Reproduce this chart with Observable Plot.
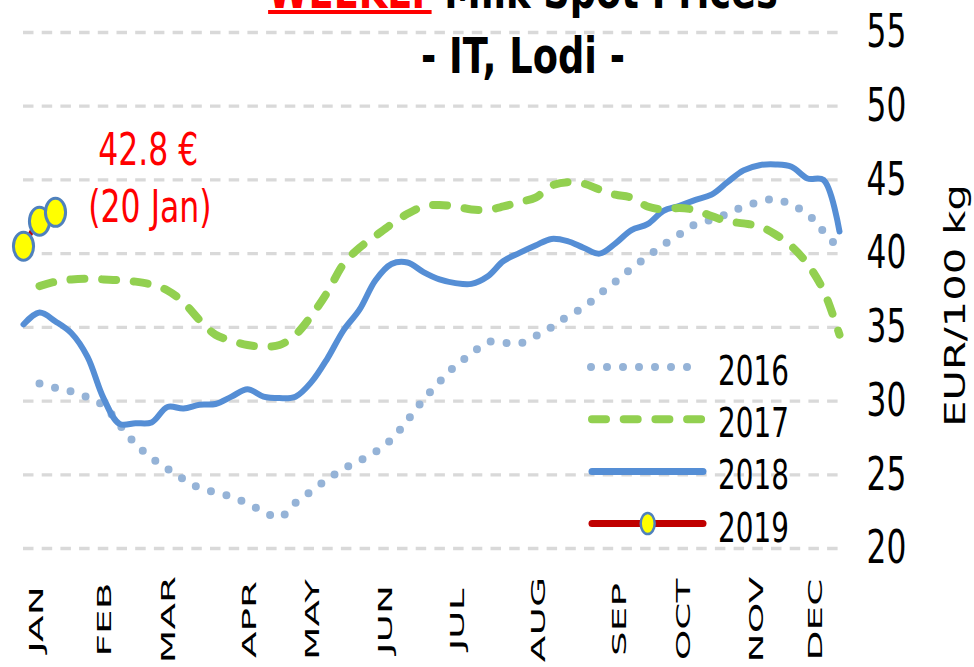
<!DOCTYPE html>
<html><head><meta charset="utf-8">
<script src="https://cdn.jsdelivr.net/npm/d3@7"></script>
<script src="https://cdn.jsdelivr.net/npm/@observablehq/plot@0.6"></script>
<style>
html,body{margin:0;padding:0;background:#fff;}
#wrap{position:relative;width:974px;height:667px;overflow:hidden;background:#fff;}
#wrap > svg{position:absolute;left:0;top:0;}
</style></head><body><div id="wrap"></div>
<script>
// ---------- data ----------
const years = ["2016", "2017", "2018", "2019"];
const v2016 = [null, 31.2, 30.9, 30.65, 30.25, 29.7, 28.4, 27.1, 26.15, 25.4, 24.7, 24.1, 23.8, 23.5, 23.05, 22.5, 22.1, 23.1, 23.9, 24.7, 25.4, 25.95, 26.55, 27.4, 28.7, 30.1, 31.3, 32.4, 33.2, 34.0, 33.95, 33.9, 34.4, 35.0, 35.75, 36.35, 37.25, 38.1, 39.0, 39.8, 40.6, 41.3, 42.0, 42.3, 42.7, 43.2, 43.5, 43.7, 43.3, 42.7, 41.5, 40.3];
const v2017 = [null, 37.8, 38.1, 38.25, 38.3, 38.25, 38.2, 38.1, 37.9, 37.5, 36.7, 35.5, 34.5, 34.1, 33.8, 33.7, 33.8, 34.5, 35.8, 37.4, 39.3, 40.4, 41.2, 42.0, 42.7, 43.2, 43.3, 43.2, 43.0, 42.97, 43.2, 43.5, 43.8, 44.6, 44.85, 44.75, 44.35, 44.0, 43.8, 43.2, 43.0, 43.1, 42.95, 42.55, 42.2, 42.05, 41.85, 41.3, 40.5, 39.3, 37.5, 34.5];
const v2018 = [35.2, 36.0, 35.4, 34.6, 33.0, 30.2, 28.45, 28.5, 28.55, 29.6, 29.5, 29.75, 29.8, 30.3, 30.8, 30.3, 30.2, 30.3, 31.3, 32.9, 34.8, 36.2, 38.2, 39.3, 39.4, 38.75, 38.25, 38.0, 37.95, 38.45, 39.5, 40.05, 40.55, 41.0, 40.85, 40.4, 40.0, 40.7, 41.6, 42.0, 42.9, 43.25, 43.65, 44.0, 44.85, 45.65, 46.0, 46.05, 45.9, 45.1, 45.0, 41.5];
const v2019 = [40.5, 42.2, 42.8];
const monthLabels = ["JAN", "FEB", "MAR", "APR", "MAY", "JUN", "JUL", "AUG", "SEP", "OCT", "NOV", "DEC"];
const monthWeeks = [2.2, 6.45, 10.45, 15.5, 19.45, 24.05, 28.55, 33.6, 38.65, 42.65, 47.2, 50.9];
const yTicks = [20, 25, 30, 35, 40, 45, 50, 55];
const yLabel = "EUR/100 kg";
const titleRed = "WEEKLY";
const titleRest = " Milk Spot Prices";
const subtitle = "- IT, Lodi -";
const noteLines = ["42.8 €", "(20 Jan)"];
const noteWeeks = [8.8, 8.9];
const noteValues = [47.0, 43.1];

// ---------- tidy table ----------
const rows = [];
[v2016, v2017, v2018, v2019].forEach((arr, k) =>
  arr.forEach((v, i) => { if (v != null) rows.push({year: years[k], week: i + 1, value: v}); })
);
const byYear = (y) => rows.filter((r) => r.year === y);

const style = {
  "2016": {stroke: "#95b3d7", strokeWidth: 8, strokeDasharray: "0 16", strokeLinecap: "round"},
  "2017": {stroke: "#92d050", strokeWidth: 8, strokeDasharray: "14 17.7", strokeLinecap: "round"},
  "2018": {stroke: "#558ed5", strokeWidth: 6, strokeLinecap: "round"},
  "2019": {stroke: "#c00000", strokeWidth: 5, strokeLinecap: "round"}
};

// ellipse symbol (markers look taller than wide)
const ellipse = {
  draw(ctx, size) {
    const r = Math.sqrt(size / Math.PI), rx = r * 0.72, ry = r, k = 0.5523;
    ctx.moveTo(rx, 0);
    ctx.bezierCurveTo(rx, ry * k, rx * k, ry, 0, ry);
    ctx.bezierCurveTo(-rx * k, ry, -rx, ry * k, -rx, 0);
    ctx.bezierCurveTo(-rx, -ry * k, -rx * k, -ry, 0, -ry);
    ctx.bezierCurveTo(rx * k, -ry, rx, -ry * k, rx, 0);
    ctx.closePath();
  }
};

const lineOpts = (y) => ({x: "week", y: "value", curve: "catmull-rom", ...style[y]});

const chart = Plot.plot({
  width: 974, height: 667,
  marginLeft: 23, marginRight: 135, marginTop: 32, marginBottom: 119,
  style: {fontFamily: "DejaVu Sans", background: "transparent", overflow: "visible"},
  x: {domain: [1, 52], axis: null},
  y: {domain: [20, 55], axis: null},
  marks: [
    Plot.ruleY(yTicks, {stroke: "#d9d9d9", strokeWidth: 3.3, strokeDasharray: "10.5 8.2"}),
    Plot.line(byYear("2016"), lineOpts("2016")),
    Plot.line(byYear("2018"), lineOpts("2018")),
    Plot.line(byYear("2017"), lineOpts("2017")),
    Plot.line(byYear("2019"), lineOpts("2019")),
    Plot.dot(byYear("2019"), {x: "week", y: "value", r: 14, symbol: ellipse, fill: "#ffff00", stroke: "#4f81bd", strokeWidth: 3}),
    Plot.text(yTicks, {y: (d) => d, text: (d) => String(d), frameAnchor: "right", textAnchor: "start", dx: 27, fontSize: 46, fill: "#000"}),
    Plot.text([yLabel], {text: (d) => d, frameAnchor: "right", textAnchor: "middle", dx: 117, dy: 15, rotate: -90, fontSize: 40, fill: "#000"}),
    Plot.text(monthLabels, {x: (d, i) => monthWeeks[i], text: (d) => d, frameAnchor: "bottom", textAnchor: "middle", dy: 71, rotate: -90, fontSize: 30, fill: "#000"}),
    Plot.text(noteLines, {x: (d, i) => noteWeeks[i], y: (d, i) => noteValues[i], text: (d) => d, fill: "#ff0000", fontSize: 45})
  ]
});

document.getElementById("wrap").appendChild(chart);
function squash(list, sx, sy) {
  const set = new Set(list.map(String));
  chart.querySelectorAll("text").forEach((t) => {
    if (!set.has(t.textContent)) return;
    const tr = t.getAttribute("transform") || "";
    t.setAttribute("transform", tr + ` scale(${sx},${sy})`);
  });
}
squash(yTicks, 0.68, 1);
squash([yLabel], 1.04, 0.7);
squash(monthLabels, 1.3, 0.66);
squash(noteLines, 0.7, 1);

// ---------- overlay: title + legend ----------
const ov = d3.select("#wrap").append("svg").attr("width", 974).attr("height", 667)
  .style("pointer-events", "none");
const font = "DejaVu Sans";
const tg = ov.append("g").attr("transform", "translate(523,8) scale(0.75,1)");
const t1 = tg.append("text").attr("text-anchor", "middle").attr("font-family", font)
  .attr("font-weight", "bold").attr("font-size", 49);
t1.append("tspan").attr("fill", "#ff0000").text(titleRed);
t1.append("tspan").attr("fill", "#000").text(titleRest);
const total = t1.node().getComputedTextLength();
const redLen = t1.node().getSubStringLength(0, titleRed.length);
tg.append("rect").attr("x", -total / 2).attr("y", 2).attr("width", redLen).attr("height", 4).attr("fill", "#ff0000");
ov.append("g").attr("transform", "translate(523,73) scale(0.75,1)")
  .append("text").attr("text-anchor", "middle").attr("font-family", font)
  .attr("font-weight", "bold").attr("font-size", 49).attr("fill", "#000").text(subtitle);

const lg = ov.append("g");
years.forEach((y, i) => {
  const cy = 367 + i * 52.2;
  const s = style[y];
  const x0 = y === "2016" ? 591 : 592, x1 = y === "2016" ? 689 : 703;
  lg.append("line").attr("x1", x0).attr("x2", x1).attr("y1", cy).attr("y2", cy)
    .attr("stroke", s.stroke).attr("stroke-width", y === "2018" || y === "2019" ? 7 : s.strokeWidth)
    .attr("stroke-linecap", "round").attr("stroke-dasharray", s.strokeDasharray || null);
  if (y === "2019") {
    lg.append("ellipse").attr("cx", 647.7).attr("cy", cy).attr("rx", 7).attr("ry", 10.5)
      .attr("fill", "#ffff00").attr("stroke", "#4f81bd").attr("stroke-width", 2.5);
  }
  lg.append("g").attr("transform", `translate(718,${cy + 18}) scale(0.68,1)`)
    .append("text").attr("font-family", font).attr("font-size", 41).attr("fill", "#000").text(y);
});
</script></body></html>
